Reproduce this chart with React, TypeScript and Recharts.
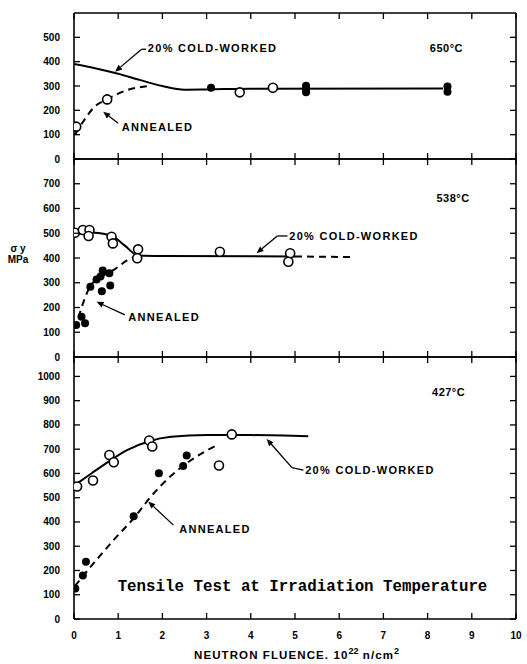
import { ComposedChart, Line, Scatter, XAxis, YAxis, ReferenceLine } from 'recharts'

const W = 527
const H = 664
const FONT = '"Liberation Sans", Arial, sans-serif'

type Pt = { x: number; y: number }
type Tag = { x: number; y: number; text: string }

const xTicks = [0, 1, 2, 3, 4, 5, 6, 7, 8, 9, 10]

// ---- 650 C ----
const ticks650 = [0, 100, 200, 300, 400, 500]
const cw650: Pt[] = [
  { x: 0, y: 390 }, { x: 0.5, y: 372 }, { x: 1, y: 350 }, { x: 1.5, y: 324 },
  { x: 2, y: 300 }, { x: 2.5, y: 285 }, { x: 3, y: 286 }, { x: 4, y: 289 },
  { x: 8.35, y: 290 },
]
const ann650: Pt[] = [
  { x: 0.02, y: 100 }, { x: 0.25, y: 165 }, { x: 0.45, y: 212 }, { x: 0.75, y: 245 },
  { x: 1.2, y: 283 }, { x: 1.7, y: 300 },
]
const open650: Pt[] = [
  { x: 0.05, y: 133 }, { x: 0.75, y: 245 }, { x: 3.75, y: 274 }, { x: 4.5, y: 293 },
]
const filled650: Pt[] = [
  { x: 3.1, y: 293 }, { x: 5.25, y: 301 }, { x: 5.25, y: 290 }, { x: 5.25, y: 280 },
  { x: 5.25, y: 274 }, { x: 8.45, y: 298 }, { x: 8.45, y: 276 },
]
const tags650: Tag[] = [
  { x: 1.67, y: 456, text: '20% COLD-WORKED' },
  { x: 1.08, y: 133, text: 'ANNEALED' },
]
const temp650: Tag[] = [{ x: 8.05, y: 456, text: '650°C' }]
const leaders650: Pt[][] = [
  [{ x: 1.63, y: 451 }, { x: 1.53, y: 451 }, { x: 0.93, y: 359 }],
  [{ x: 1.0, y: 147 }, { x: 0.66, y: 194 }],
]

// ---- 538 C ----
const ticks538 = [0, 100, 200, 300, 400, 500, 600, 700]
const cw538: Pt[] = [
  { x: 0, y: 506 }, { x: 0.4, y: 503 }, { x: 0.85, y: 490 }, { x: 1.15, y: 450 },
  { x: 1.45, y: 410 }, { x: 2.0, y: 408 }, { x: 5.0, y: 406 },
]
const cw538ext: Pt[] = [{ x: 5.0, y: 406 }, { x: 6.3, y: 404 }]
const ann538: Pt[] = [
  { x: 0.1, y: 160 }, { x: 0.22, y: 225 }, { x: 0.36, y: 284 }, { x: 0.6, y: 322 },
  { x: 0.9, y: 352 }, { x: 1.2, y: 390 }, { x: 1.45, y: 410 },
]
const open538: Pt[] = [
  { x: 0.02, y: 502 }, { x: 0.2, y: 513 }, { x: 0.35, y: 513 }, { x: 0.33, y: 489 },
  { x: 0.85, y: 486 }, { x: 0.88, y: 459 }, { x: 1.45, y: 435 }, { x: 1.43, y: 399 },
  { x: 3.3, y: 425 }, { x: 4.89, y: 419 }, { x: 4.85, y: 385 },
]
const filled538: Pt[] = [
  { x: 0.05, y: 129 }, { x: 0.17, y: 163 }, { x: 0.25, y: 136 }, { x: 0.37, y: 284 },
  { x: 0.51, y: 313 }, { x: 0.6, y: 325 }, { x: 0.65, y: 349 }, { x: 0.8, y: 338 },
  { x: 0.63, y: 266 }, { x: 0.82, y: 289 },
]
const tags538: Tag[] = [
  { x: 4.87, y: 489, text: '20% COLD-WORKED' },
  { x: 1.23, y: 163, text: 'ANNEALED' },
]
const temp538: Tag[] = [{ x: 8.2, y: 641, text: '538°C' }]
const leaders538: Pt[][] = [
  [{ x: 4.83, y: 489 }, { x: 4.6, y: 489 }, { x: 4.13, y: 419 }],
  [{ x: 1.15, y: 170 }, { x: 0.51, y: 223 }],
]

// ---- 427 C ----
const ticks427 = [0, 100, 200, 300, 400, 500, 600, 700, 800, 900, 1000]
const cw427: Pt[] = [
  { x: 0.05, y: 556 }, { x: 0.4, y: 601 }, { x: 0.8, y: 651 }, { x: 1.2, y: 696 },
  { x: 1.7, y: 733 }, { x: 2.2, y: 751 }, { x: 3.0, y: 758 }, { x: 4.0, y: 758 },
  { x: 5.3, y: 753 },
]
const ann427: Pt[] = [
  { x: 0.02, y: 136 }, { x: 0.45, y: 231 }, { x: 0.9, y: 326 }, { x: 1.4, y: 426 },
  { x: 1.7, y: 496 }, { x: 2.2, y: 591 }, { x: 2.7, y: 661 }, { x: 3.25, y: 718 },
]
const open427: Pt[] = [
  { x: 0.07, y: 546 }, { x: 0.43, y: 571 }, { x: 0.8, y: 676 }, { x: 0.9, y: 646 },
  { x: 1.7, y: 736 }, { x: 1.77, y: 711 }, { x: 3.57, y: 761 }, { x: 3.28, y: 633 },
]
const filled427: Pt[] = [
  { x: 0.03, y: 126 }, { x: 0.2, y: 179 }, { x: 0.27, y: 236 }, { x: 1.35, y: 424 },
  { x: 1.92, y: 601 }, { x: 2.47, y: 631 }, { x: 2.55, y: 674 },
]
const tags427: Tag[] = [
  { x: 5.23, y: 614, text: '20% COLD-WORKED' },
  { x: 2.38, y: 371, text: 'ANNEALED' },
]
const temp427: Tag[] = [{ x: 8.1, y: 937, text: '427°C' }]
const leaders427: Pt[][] = [
  [{ x: 5.19, y: 614 }, { x: 4.93, y: 624 }, { x: 4.36, y: 742 }],
  [{ x: 2.25, y: 387 }, { x: 1.68, y: 484 }],
]
const caption427: Tag[] = [{ x: 5.17, y: 133, text: 'Tensile Test at Irradiation Temperature' }]

const axisStyle = { stroke: '#000', strokeWidth: 1.6 }
const labelStyle = { fontFamily: FONT, fontWeight: 700, fontSize: 10, fill: '#000' }

const BottomTick = (p: any) => (
  <g>
    <line x1={p.x} y1={p.y} x2={p.x} y2={p.y - 6} stroke="#000" strokeWidth={1.3} />
    {p.showLabel && (
      <text x={p.x} y={p.y + 16} textAnchor="middle" dominantBaseline="central" {...labelStyle}>
        {p.payload.value}
      </text>
    )}
  </g>
)
const TopTick = (p: any) => (
  <line x1={p.x} y1={p.y} x2={p.x} y2={p.y + 6} stroke="#000" strokeWidth={1.3} />
)
const LeftTick = (p: any) => (
  <g>
    <line x1={p.x} y1={p.y} x2={p.x + 6} y2={p.y} stroke="#000" strokeWidth={1.3} />
    <text x={p.x - 14} y={p.y} textAnchor="end" dominantBaseline="central" {...labelStyle}>
      {p.payload.value}
    </text>
  </g>
)
const RightTick = (p: any) => (
  <line x1={p.x} y1={p.y} x2={p.x - 6} y2={p.y} stroke="#000" strokeWidth={1.3} />
)

const Arrow = (p: any) => {
  const { x1, y1, x2, y2, head } = p
  if (!head) return <line x1={x1} y1={y1} x2={x2} y2={y2} stroke="#000" strokeWidth={1.3} />
  const a = Math.atan2(y2 - y1, x2 - x1)
  const L = 7
  const w = 3
  const bx = x2 - L * Math.cos(a)
  const by = y2 - L * Math.sin(a)
  const pts = `${x2},${y2} ${bx + w * Math.sin(a)},${by - w * Math.cos(a)} ${bx - w * Math.sin(a)},${by + w * Math.cos(a)}`
  return (
    <g>
      <line x1={x1} y1={y1} x2={bx} y2={by} stroke="#000" strokeWidth={1.3} />
      <polygon points={pts} fill="#000" />
    </g>
  )
}

const tagText = (p: any, style: any, anchor = 'start') => (
  <text x={p.cx} y={p.cy} textAnchor={anchor} dominantBaseline="central" {...style}>
    {p.payload?.text ?? p.text}
  </text>
)
const tagStyle = { fontFamily: FONT, fontWeight: 700, fontSize: 11, letterSpacing: 1.3, fill: '#000' }
const tempStyle = { fontFamily: FONT, fontWeight: 700, fontSize: 11, letterSpacing: 0.5, fill: '#000' }
const captionStyle = { fontFamily: '"Liberation Mono", monospace', fontWeight: 700, fontSize: 15.8, fill: '#000' }

type PanelProps = {
  top: number
  bottom: number
  max: number
  yTicks: number[]
  solid: Pt[][]
  dashed: Pt[][]
  open: Pt[]
  filled: Pt[]
  tags: Tag[]
  temp: Tag[]
  leaders: Pt[][]
  caption?: Tag[]
  showX?: boolean
}

const Panel = ({ top, bottom, max, yTicks, solid, dashed, open, filled, tags, temp, leaders, caption, showX }: PanelProps) => (
  <div style={{ position: 'absolute', left: 0, top: 0 }}>
    <ComposedChart width={W} height={H} margin={{ top: top - 1, right: 10, bottom: H - bottom - 1, left: 0 }}>
      <XAxis type="number" dataKey="x" domain={[0, 10]} ticks={xTicks} interval={0} height={1}
        tickSize={0} tickMargin={0} axisLine={axisStyle} tickLine={false} allowDataOverflow
        tick={(p: any) => <BottomTick {...p} showLabel={showX} />} />
      <XAxis xAxisId="top" orientation="top" type="number" dataKey="x" domain={[0, 10]} ticks={xTicks} interval={0}
        height={1} tickSize={0} tickMargin={0} axisLine={axisStyle} tickLine={false} allowDataOverflow
        tick={TopTick} />
      <YAxis type="number" dataKey="y" domain={[0, max]} ticks={yTicks} interval={0} width={74}
        tickSize={0} tickMargin={0} axisLine={axisStyle} tickLine={false} allowDataOverflow
        tick={LeftTick} />
      <YAxis yAxisId="right" orientation="right" type="number" dataKey="y" domain={[0, max]} ticks={yTicks} interval={0}
        width={1} tickSize={0} tickMargin={0} axisLine={axisStyle} tickLine={false} allowDataOverflow
        tick={RightTick} />
      {solid.map((d, i) => (
        <Line key={'s' + i} data={d} dataKey="y" type="monotone" stroke="#000" strokeWidth={2}
          dot={false} activeDot={false} isAnimationActive={false} />
      ))}
      {dashed.map((d, i) => (
        <Line key={'d' + i} data={d} dataKey="y" type="monotone" stroke="#000" strokeWidth={2}
          strokeDasharray="7 5" dot={false} activeDot={false} isAnimationActive={false} />
      ))}
      {leaders.map((pts, i) =>
        pts.slice(1).map((q, j) => (
          <ReferenceLine key={`l${i}-${j}`} segment={[pts[j], q]} ifOverflow="visible"
            shape={(p: any) => <Arrow {...p} head={j === pts.length - 2} />} />
        ))
      )}
      <Scatter data={open} isAnimationActive={false}
        shape={(p: any) => <circle cx={p.cx} cy={p.cy} r={4.5} fill="#fff" stroke="#000" strokeWidth={1.6} />} />
      <Scatter data={filled} isAnimationActive={false}
        shape={(p: any) => <circle cx={p.cx} cy={p.cy} r={4} fill="#000" />} />
      <Scatter data={tags} isAnimationActive={false} shape={(p: any) => tagText(p, tagStyle)} />
      <Scatter data={temp} isAnimationActive={false} shape={(p: any) => tagText(p, tempStyle)} />
      {caption && (
        <Scatter data={caption} isAnimationActive={false} shape={(p: any) => tagText(p, captionStyle, 'middle')} />
      )}
    </ComposedChart>
  </div>
)

export default function App() {
  return (
    <div style={{ position: 'absolute', left: 0, top: 0, width: W, height: H, background: '#fff', overflow: 'hidden' }}>
      <Panel top={13} bottom={159} max={600} yTicks={ticks650} solid={[cw650]} dashed={[ann650]}
        open={open650} filled={filled650} tags={tags650} temp={temp650} leaders={leaders650} />
      <Panel top={159} bottom={357} max={800} yTicks={ticks538} solid={[cw538]} dashed={[cw538ext, ann538]}
        open={open538} filled={filled538} tags={tags538} temp={temp538} leaders={leaders538} />
      <Panel top={357} bottom={619} max={1080} yTicks={ticks427} solid={[cw427]} dashed={[ann427]}
        open={open427} filled={filled427} tags={tags427} temp={temp427} leaders={leaders427}
        caption={caption427} showX />
      <div style={{ position: 'absolute', left: 3, top: 243, width: 30, textAlign: 'center',
        fontFamily: FONT, fontWeight: 700, fontSize: 10, lineHeight: '11px' }}>
        σ y<br />MPa
      </div>
      <div style={{ position: 'absolute', left: 194, top: 646, whiteSpace: 'nowrap',
        fontFamily: FONT, fontWeight: 700, fontSize: 11.5, letterSpacing: 1.1 }}>
        NEUTRON FLUENCE. 10<sup style={{ fontSize: 9, letterSpacing: 0 }}>22</sup> n/cm<sup style={{ fontSize: 9 }}>2</sup>
      </div>
    </div>
  )
}
